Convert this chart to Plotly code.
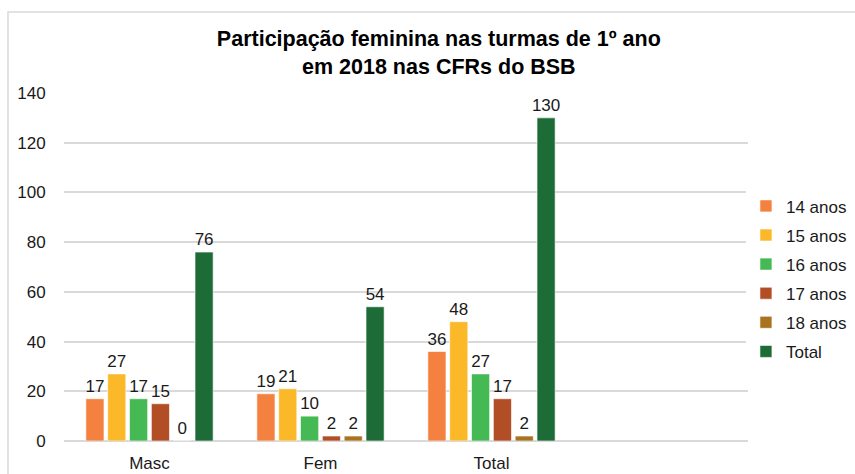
import plotly.graph_objects as go

categories = ["Masc", "Fem", "Total", " "]
series_names = ["14 anos", "15 anos", "16 anos", "17 anos", "18 anos", "Total"]
v14 = [17, 19, 36, None]
v15 = [27, 21, 48, None]
v16 = [17, 10, 27, None]
v17 = [15, 2, 17, None]
v18 = [0, 2, 2, None]
vtot = [76, 54, 130, None]
colors = ["#F4813F", "#FBB829", "#45B954", "#B24E26", "#A9741F", "#1D6B37"]
y_ticks = [0, 20, 40, 60, 80, 100, 120, 140]

all_values = [v14, v15, v16, v17, v18, vtot]

fig = go.Figure()
for i, (name, vals, col) in enumerate(zip(series_names, all_values, colors)):
    fig.add_trace(go.Bar(
        x=categories, y=vals, name=name,
        marker=dict(color=col, line=dict(color="rgba(255,255,255,0.6)", width=1)),
        text=[("" if v is None else str(v)) for v in vals],
        textposition="outside", cliponaxis=False, constraintext="none",
        textfont=dict(size=17, color="#1a1a1a", family="Liberation Sans, Arial"),
        legendgroup=f"g{i}",
    ))

fig.update_layout(
    width=855, height=474,
    margin=dict(l=64, r=107, t=93, b=33, autoexpand=False),
    paper_bgcolor="white", plot_bgcolor="white",
    font=dict(family="Liberation Sans, Arial", size=17, color="#1a1a1a"),
    barmode="group", bargap=0.234, bargroupgap=0.17,
    title=dict(
        text="<b>Participação feminina nas turmas de 1º ano<br>em 2018 nas CFRs do BSB</b>",
        x=0.548, xref="paper", xanchor="center",
        yref="container", y=0.902, yanchor="top",
        font=dict(size=21.5, color="#000000"),
        automargin=False,
    ),
    legend=dict(
        x=0.997, xanchor="left", y=0.726, yanchor="top",
        font=dict(size=17), tracegroupgap=4, itemwidth=30,
    ),
    uniformtext=dict(mode=False),
    showlegend=True,
)
fig.update_xaxes(
    categoryorder="array", categoryarray=categories,
    showgrid=False, showline=False, zeroline=False,
    ticks="outside", ticklen=7, tickcolor="rgba(0,0,0,0)",
    tickfont=dict(size=17), automargin=False,
)
fig.update_yaxes(
    range=[0, 140], tickvals=y_ticks, showgrid=True, gridcolor="#D9D9D9", gridwidth=1.5,
    zeroline=True, zerolinecolor="#D9D9D9", zerolinewidth=1.5, showline=False,
    ticks="outside", ticklen=14, tickcolor="rgba(0,0,0,0)",
    tickfont=dict(size=17), automargin=False,
)
fig.add_shape(type="rect", xref="paper", yref="paper",
              x0=-0.0819, x1=1.3, y0=-0.3, y1=1.2328,
              line=dict(color="#D9D9D9", width=1.5), layer="below")

fig.write_html("out.html", config={"displayModeBar": False},
               post_script="document.body.style.margin='0';document.body.style.overflow='hidden';")
